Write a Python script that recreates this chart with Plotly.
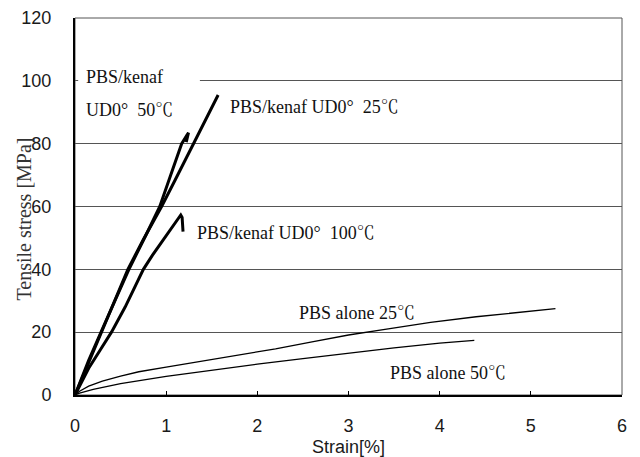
import plotly.graph_objects as go

# ---- data ----
strain_kenaf25 = [0, 0.05, 0.15, 0.3, 0.45, 0.58, 0.75, 0.95, 1.1, 1.3, 1.43, 1.57]
stress_kenaf25 = [0, 3.5, 10.5, 20.5, 31, 40, 49.5, 60, 68.5, 80, 87.5, 95.5]

strain_kenaf50 = [0, 0.05, 0.15, 0.3, 0.45, 0.6, 0.78, 0.93, 1.05, 1.17, 1.23, 1.245, 1.22]
stress_kenaf50 = [0, 3.8, 11, 21, 31, 40.5, 51, 60, 70, 80, 82.8, 83.5, 80.5]

strain_kenaf100 = [0, 0.05, 0.15, 0.28, 0.4, 0.55, 0.75, 0.85, 0.95, 1.05, 1.12, 1.16, 1.175, 1.18, 1.185]
stress_kenaf100 = [0, 3, 8.5, 14.5, 20, 28, 40, 44.5, 48.5, 52.5, 55.5, 57.3, 56.5, 54, 52]

strain_pbs25 = [0, 0.05, 0.15, 0.3, 0.5, 0.7, 1.0, 1.4, 1.8, 2.2, 2.6, 3.0, 3.4, 3.9, 4.4, 4.9, 5.27]
stress_pbs25 = [0, 1.2, 2.8, 4.4, 6.0, 7.4, 8.9, 10.8, 12.6, 14.7, 16.9, 19.1, 20.9, 23.1, 24.9, 26.4, 27.5]

strain_pbs50 = [0, 0.05, 0.2, 0.5, 1.0, 1.5, 2.0, 2.5, 3.0, 3.5, 4.0, 4.38]
stress_pbs50 = [0, 0.6, 1.8, 3.6, 5.9, 7.9, 9.8, 11.6, 13.4, 15.0, 16.5, 17.4]

x_ticks = [0, 1, 2, 3, 4, 5, 6]
y_ticks = [0, 20, 40, 60, 80, 100, 120]

NB = "\u00a0"
label_texts = ["PBS/kenaf", "UD0°" + NB + NB + "50℃", "PBS/kenaf UD0°" + NB + NB + "25℃",
               "PBS/kenaf UD0°" + NB + NB + "100℃", "PBS alone 25℃", "PBS alone 50℃"]
label_x = [0.10, 0.10, 1.68, 1.32, 2.43, 3.43]
label_y = [101.2, 90.7, 91.7, 51.6, 26.1, 7.0]

SERIF = "Liberation Serif, Times New Roman, Noto Serif CJK JP, serif"
SANS = "Liberation Sans, Arial, sans-serif"

fig = go.Figure()
for xs, ys, w in [(strain_kenaf25, stress_kenaf25, 3),
                  (strain_kenaf50, stress_kenaf50, 3),
                  (strain_kenaf100, stress_kenaf100, 3),
                  (strain_pbs25, stress_pbs25, 1.3),
                  (strain_pbs50, stress_pbs50, 1.3)]:
    fig.add_trace(go.Scatter(x=xs, y=ys, mode="lines",
                             line=dict(color="black", width=w),
                             hoverinfo="skip"))

# white patch hiding part of the 100 MPa gridline behind the label
fig.add_shape(type="rect", xref="x", yref="y", x0=0.035, x1=1.37, y0=98.8, y1=101.2,
              fillcolor="white", line=dict(width=0), layer="above")
# frame (top / right)
fig.add_shape(type="rect", xref="paper", yref="paper", x0=0, x1=1, y0=0, y1=1,
              line=dict(color="#555", width=1), layer="below")

for t, x, y in zip(label_texts, label_x, label_y):
    fig.add_annotation(x=x, y=y, text=t, showarrow=False, xanchor="left", yanchor="middle",
                       font=dict(family=SERIF, size=18, color="#111"))

fig.add_annotation(xref="paper", yref="paper", x=0.5, y=-0.138, text="Strain[%]",
                   showarrow=False, xanchor="center", yanchor="middle",
                   font=dict(family=SANS, size=18, color="#1a1a1a"))
fig.add_annotation(xref="paper", yref="paper", x=-0.094, y=0.467, text="Tensile stress [MPa]",
                   showarrow=False, textangle=-90, xanchor="center", yanchor="middle",
                   font=dict(family=SERIF, size=20, color="#333"))

fig.update_layout(
    width=632, height=457,
    margin=dict(l=67, r=18, t=10, b=70, autoexpand=False),
    paper_bgcolor="white", plot_bgcolor="white",
    showlegend=False,
    xaxis=dict(range=[0, 6], tickvals=x_ticks, ticks="inside", ticklen=4, tickwidth=1,
               tickcolor="black", showline=True, linecolor="black", linewidth=2,
               showgrid=False, zeroline=False, ticklabelstandoff=13, automargin=False,
               tickfont=dict(family=SANS, size=18, color="#1a1a1a")),
    yaxis=dict(range=[0, 120], tickvals=y_ticks, ticks="", showline=True,
               linecolor="black", linewidth=2, showgrid=True, gridcolor="#555",
               gridwidth=1, zeroline=False, ticklabelstandoff=18, automargin=False,
               tickfont=dict(family=SANS, size=18, color="#1a1a1a")),
)

fig.write_html("out.html")
